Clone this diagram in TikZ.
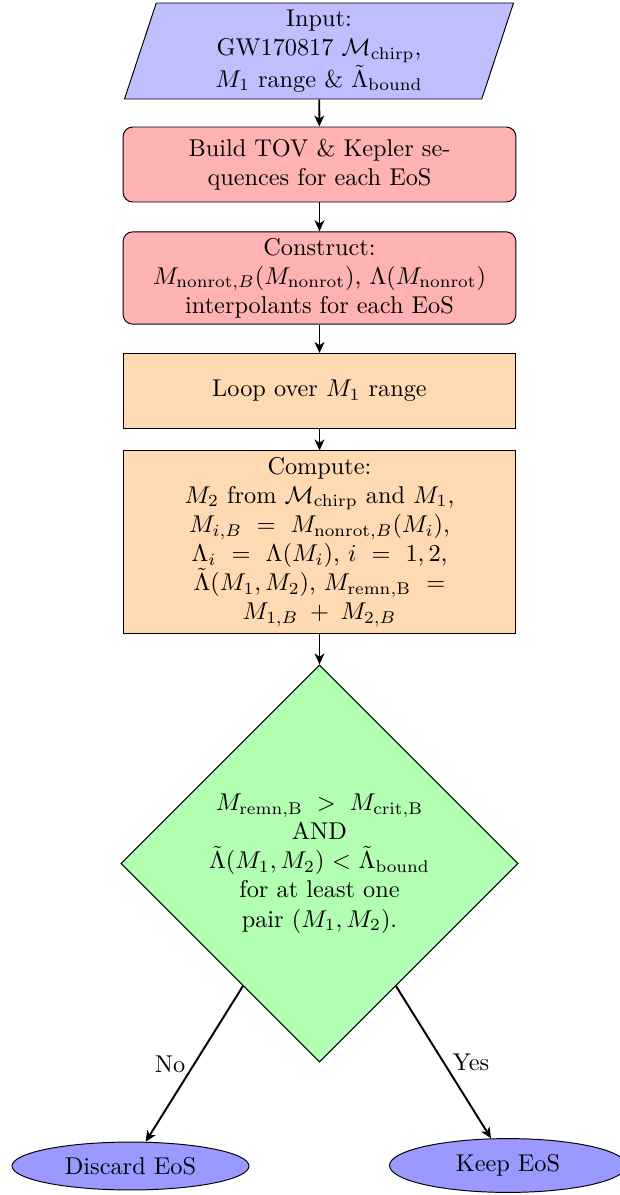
\documentclass[tikz,border=0pt]{standalone}
\usetikzlibrary{shapes.geometric,arrows.meta}
\begin{document}
\begin{tikzpicture}[x=0.41152pt, y=-0.41152pt,
  io/.style={trapezium, trapezium left angle=70, trapezium right angle=110,
    trapezium stretches body, draw, fill=blue!25, minimum width=160.1pt,
    minimum height=39.5pt, text width=100pt, align=center, inner sep=1pt},
  proc/.style={rectangle, rounded corners=4pt, draw, fill=red!30,
    text width=155pt, minimum height=30.86pt, align=center, inner xsep=3.33pt, inner ysep=2.5pt},
  loopbox/.style={rectangle, draw, fill=orange!30,
    text width=155pt, minimum height=30.86pt, align=center, inner xsep=3.33pt, inner ysep=2.5pt},
  decision/.style={diamond, aspect=1, draw, fill=green!30, minimum width=163.4pt,
    minimum height=163.4pt, inner sep=0pt, text width=96pt, align=center},
  term/.style={ellipse, draw, fill=blue!40, minimum width=97.5pt},
  arr/.style={-{Stealth[length=4.5pt, width=4pt, inset=1.3pt]}, thick}]
\useasboundingbox (0,0) rectangle (619,1195);
\node[io] (input) at (319,51) {Input:\\ GW170817 $\mathcal{M}_{\mathrm{chirp}}$,\\ $M_1$ range \& $\tilde{\Lambda}_{\mathrm{bound}}$};
\node[proc] (tov) at (319.5,164.5) {Build TOV \& Kepler se-\\quences for each EoS};
\node[proc] (interp) at (319.5,278) {Construct:\\ $M_{\mathrm{nonrot},B}(M_{\mathrm{nonrot}})$, $\Lambda(M_{\mathrm{nonrot}})$\\ interpolants for each EoS};
\node[loopbox] (loop) at (319.5,391) {Loop over $M_1$ range};
\node[loopbox] (compute) at (319.5,542) {Compute:\\ $M_2$ from $\mathcal{M}_{\mathrm{chirp}}$ and $M_1$,\\ $M_{i,B} = M_{\mathrm{nonrot},B}(M_i)$,\\ $\Lambda_i = \Lambda(M_i)$, $i = 1,2$,\\ $\tilde\Lambda(M_1,M_2)$, $M_{\mathrm{remn,B}} =$\\ $M_{1,B} + M_{2,B}$};
\node[decision] (dec) at (319.5,863.5) {$M_{\mathrm{remn,B}} \mskip4mu>\mskip4mu M_{\mathrm{crit,B}}$\\ AND\\ $\tilde\Lambda(M_1,M_2) < \tilde\Lambda_{\mathrm{bound}}$\\ for at least one\\ pair $(M_1,M_2)$.};
\node[term] (discard) at (130.5,1166) {Discard EoS};
\node[term] (keep) at (508,1165.5) {Keep EoS};
\draw[arr] (input) -- (tov);
\draw[arr] (tov) -- (interp);
\draw[arr] (interp) -- (loop);
\draw[arr] (loop) -- (compute);
\draw[arr] (compute) -- (dec);
\draw[arr] (dec) -- node[left] {No} (discard);
\draw[arr] (dec) -- node[right] {Yes} (keep);
\end{tikzpicture}
\end{document}
